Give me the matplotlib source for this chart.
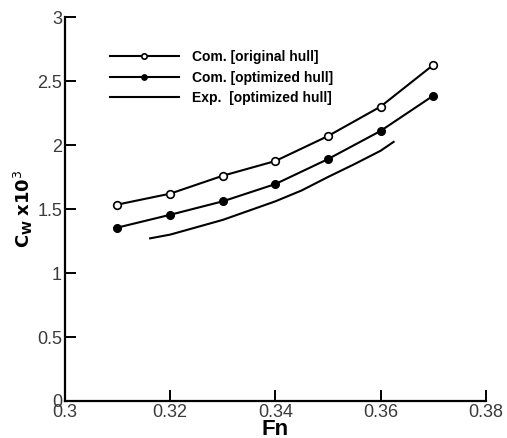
import matplotlib
matplotlib.use('Agg')
import matplotlib.pyplot as plt

plt.rcParams['font.family'] = ['Liberation Sans', 'DejaVu Sans']

# Data
fn = [0.31, 0.32, 0.33, 0.34, 0.35, 0.36, 0.37]
cw_original = [1.535, 1.62, 1.76, 1.875, 2.07, 2.30, 2.625]
cw_optimized = [1.355, 1.455, 1.56, 1.695, 1.89, 2.11, 2.385]

fn_exp = [0.3162, 0.32, 0.33, 0.34, 0.345, 0.35, 0.355, 0.36, 0.3625]
cw_exp = [1.271, 1.30, 1.415, 1.56, 1.645, 1.75, 1.85, 1.955, 2.025]

fig = plt.figure(figsize=(5.07, 4.38), dpi=100)
ax = fig.add_axes([0.128, 0.0845, 0.83, 0.8765])

ax.plot(fn, cw_original, color='black', lw=1.5, marker='o', ms=5.5,
        mfc='white', mec='black', mew=1.2, label='Com. [original hull]')
ax.plot(fn, cw_optimized, color='black', lw=1.5, marker='o', ms=5.5,
        mfc='black', mec='black', label='Com. [optimized hull]')
ax.plot(fn_exp, cw_exp, color='black', lw=1.5, label='Exp.  [optimized hull]')

ax.set_xlim(0.3, 0.38)
ax.set_ylim(0, 3)
ax.set_xticks([0.3, 0.32, 0.34, 0.36, 0.38])
ax.set_xticklabels(['0.3', '0.32', '0.34', '0.36', '0.38'])
ax.set_yticks([0, 0.5, 1, 1.5, 2, 2.5, 3])
ax.set_yticklabels(['0', '0.5', '1', '1.5', '2', '2.5', '3'])

for s in ['top', 'right']:
    ax.spines[s].set_visible(False)
for s in ['left', 'bottom']:
    ax.spines[s].set_linewidth(1.6)
ax.tick_params(direction='in', length=8, width=1.4, labelsize=13,
               labelcolor='#3a3a3a', pad=2)

ax.set_xlabel('Fn', fontsize=16, fontweight='bold')
ax.xaxis.set_label_coords(0.5, -0.048)
ax.set_ylabel(r'$\mathbf{C_W}$ $\mathbf{x10}^3$', fontsize=13,
              fontweight='bold')
ax.yaxis.set_label_coords(-0.072, 0.5)

leg = ax.legend(loc='upper left', bbox_to_anchor=(0.093, 0.928), frameon=False,
                fontsize=10, handlelength=5.0, handletextpad=0.9,
                labelspacing=0.45, borderaxespad=0, markerscale=0.7)
for t in leg.get_texts():
    t.set_fontweight('bold')

fig.savefig('out.png', dpi=100)
